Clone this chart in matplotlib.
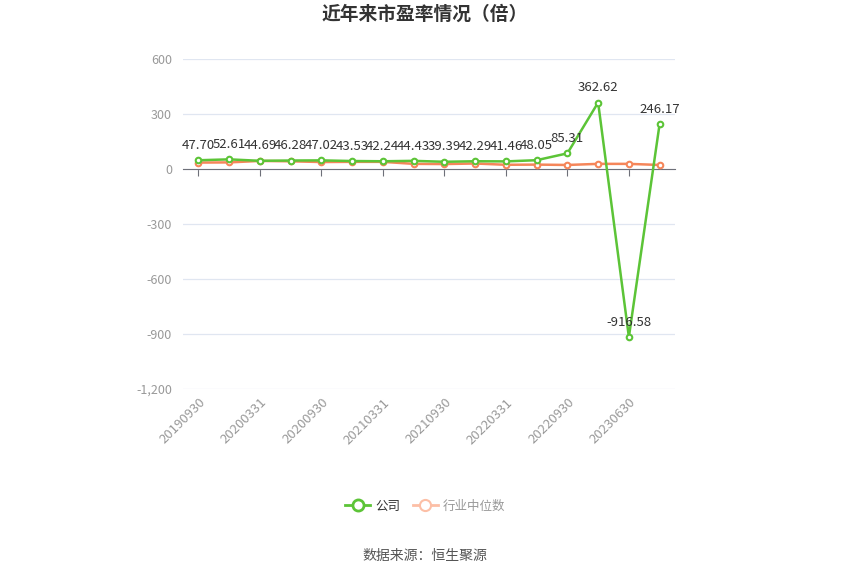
#!/usr/bin/env python3
"""近年来市盈率情况（倍）: company P/E vs industry median, line chart."""

import matplotlib

matplotlib.use("Agg")
import matplotlib.pyplot as plt
from matplotlib.lines import Line2D
from matplotlib.ticker import FuncFormatter

plt.rcParams["font.family"] = ["Noto Sans CJK SC", "DejaVu Sans"]

DATES = [
    "20190930", "20191231", "20200331", "20200630",
    "20200930", "20201231", "20210331", "20210630",
    "20210930", "20211231", "20220331", "20220630",
    "20220930", "20221231", "20230630", "20230930",
]
COMPANY = [
    47.70, 52.61, 44.69, 46.28, 47.02, 43.53, 42.24, 44.43,
    39.39, 42.29, 41.46, 48.05, 85.31, 362.62, -916.58, 246.17,
]
INDUSTRY = [
    35, 36, 44, 42, 38, 39, 39, 28,
    27, 30, 23, 24, 22, 28, 28, 22,
]
Y_TICKS = [-1200, -900, -600, -300, 0, 300, 600]

GREEN = "#5cc437"
ORANGE = "#f5865a"


def main() -> None:
    fig = plt.figure(figsize=(8.5, 5.74), dpi=100, facecolor="white")
    ax = fig.add_axes([183 / 850, 1 - 389 / 574, (675 - 183) / 850, (389 - 59) / 574])
    x = list(range(len(DATES)))

    ax.plot(x, INDUSTRY, color=ORANGE, lw=1.8, marker="o", ms=4,
            mfc="white", mec=ORANGE, mew=1.5, zorder=3)
    ax.plot(x, COMPANY, color=GREEN, lw=1.8, marker="o", ms=4,
            mfc="white", mec=GREEN, mew=1.5, zorder=4)

    for xi, v in zip(x, COMPANY):
        ax.annotate(f"{v:.2f}", (xi, v), xytext=(0, 6), textcoords="offset points",
                    ha="center", va="bottom", fontsize=9.5, color="#333333", zorder=5)

    ax.set_xlim(-0.5, len(DATES) - 0.5)
    ax.set_ylim(Y_TICKS[0], Y_TICKS[-1])
    ax.set_yticks(Y_TICKS)
    ax.yaxis.set_major_formatter(FuncFormatter(lambda v, _: f"{v:,.0f}"))
    ax.tick_params(axis="y", length=0, labelsize=9, labelcolor="#999999", pad=8)
    ax.grid(axis="y", color="#e0e6f1", lw=0.9, zorder=0)
    ax.set_axisbelow(True)

    for side in ("left", "right", "top"):
        ax.spines[side].set_visible(False)
    ax.spines["bottom"].set_position(("data", 0))
    ax.spines["bottom"].set_color("#6e7079")
    ax.set_xticks(x[::2])
    ax.tick_params(axis="x", length=5, color="#6e7079", labelbottom=False)

    sec = ax.secondary_xaxis("bottom")
    sec.set_xticks(x[::2])
    sec.set_xticklabels(DATES[::2], rotation=45, ha="right", va="top",
                        rotation_mode="anchor")
    sec.tick_params(length=0, labelsize=9.5, labelcolor="#999999", pad=5)
    sec.spines["bottom"].set_visible(False)

    fig.text(0.5, 1 - 14 / 574, "近年来市盈率情况（倍）", ha="center", va="center",
             fontsize=13.5, fontweight="bold", color="#333333")

    handles = [
        Line2D([], [], color=GREEN, lw=2, marker="o", ms=8, mfc="white",
               mec=GREEN, mew=2),
        Line2D([], [], color="#fcbfa6", lw=2, marker="o", ms=8, mfc="white",
               mec="#fcbfa6", mew=1.5),
    ]
    leg = fig.legend(handles, ["公司", "行业中位数"], loc="center",
                     bbox_to_anchor=(0.5, 1 - 506 / 574), ncol=2, frameon=False,
                     fontsize=9, handlelength=2, columnspacing=1.0, handletextpad=0.4)
    leg.get_texts()[0].set_color("#333333")
    leg.get_texts()[1].set_color("#999999")

    fig.text(0.5, 1 - 556 / 574, "数据来源：恒生聚源", ha="center", va="center",
             fontsize=10, color="#555555")

    fig.savefig("out.png", dpi=100, facecolor="white")
    plt.close(fig)


if __name__ == "__main__":
    main()
